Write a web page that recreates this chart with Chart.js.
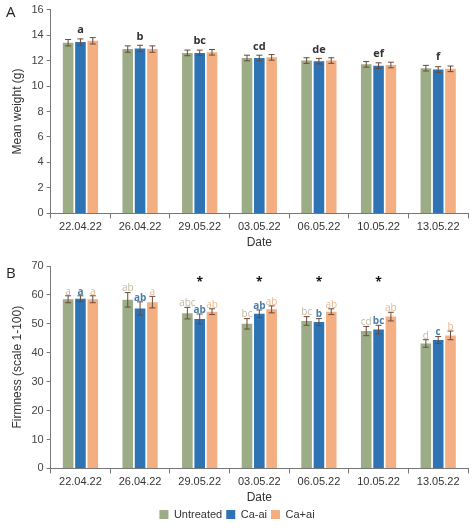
<!DOCTYPE html>
<html>
<head>
<meta charset="utf-8">
<script src="https://cdn.jsdelivr.net/npm/chart.js@4"></script>
<style>
  body { margin: 0; background: #fff; font-family: "Open Sans", sans-serif; }
  .panel { position: absolute; left: 0; width: 474px; }
  .tag { position: absolute; left: 6px; font-size: 15px; color: #222; }
</style>
</head>
<body>
<div class="panel" style="top:0;height:250px"><canvas id="chartA"></canvas></div>
<div class="panel" style="top:252px;height:278px"><canvas id="chartB"></canvas></div>
<div class="tag" style="top:1px">A</div>
<div class="tag" style="top:262px">B</div>
<script>
// Categories and series
const dates = ['22.04.22', '26.04.22', '29.05.22', '03.05.22', '06.05.22', '10.05.22', '13.05.22'];
const seriesNames = ['Untreated', 'Ca-ai', 'Ca+ai'];
const seriesColors = ['#9cac86', '#2e74b5', '#f3ae82'];

// Panel A: mean weight
const weightUntreated = [13.4, 12.9, 12.6, 12.2, 12.0, 11.7, 11.4];
const weightCaMinus = [13.45, 12.95, 12.6, 12.2, 11.95, 11.6, 11.3];
const weightCaPlus = [13.55, 12.9, 12.65, 12.25, 12.0, 11.65, 11.35];
const weightErr = [0.25, 0.25, 0.22, 0.22, 0.22, 0.22, 0.22];
const weightLetters = ['a', 'b', 'bc', 'cd', 'de', 'ef', 'f'];

// Panel B: firmness
const firmUntreated = [58.5, 58.3, 53.7, 50.0, 51.0, 47.5, 43.2];
const firmCaMinus = [58.7, 55.3, 51.7, 53.5, 50.6, 48.0, 44.4];
const firmCaPlus = [58.5, 57.5, 54.2, 55.0, 54.2, 52.5, 46.0];
const firmErrUntreated = [1.2, 2.5, 2.0, 1.8, 1.5, 1.6, 1.3];
const firmErrCaMinus = [1.0, 2.3, 1.7, 1.3, 1.2, 1.5, 1.2];
const firmErrCaPlus = [1.2, 2.0, 1.0, 1.2, 1.0, 1.5, 1.5];
const firmLettersUntreated = ['a', 'ab', 'abc', 'bc', 'bc', 'cd', 'd'];
const firmLettersCaMinus = ['a', 'ab', 'ab', 'ab', 'b', 'bc', 'c'];
const firmLettersCaPlus = ['a', 'a', 'ab', 'ab', 'ab', 'ab', 'b'];
const firmStars = ['', '', '*', '*', '*', '*', ''];

const letterColors = ['#c4b8a0', '#4a7ea8', '#eeb58a'];

// Error bars + letters drawn from dataset values through the scales
const annotate = {
    id: 'annotate',
    afterDatasetsDraw(chart) {
        const ctx = chart.ctx;
        const y = chart.scales.y;
        const cfg = chart.options.plugins.annotate;
        ctx.save();
        chart.data.datasets.forEach((ds, di) => {
            const meta = chart.getDatasetMeta(di);
            meta.data.forEach((bar, i) => {
                const e = ds.err[i];
                const top = y.getPixelForValue(ds.data[i] + e);
                const bot = y.getPixelForValue(ds.data[i] - e);
                ctx.strokeStyle = '#6b4a3a';
                ctx.lineWidth = 1;
                ctx.beginPath();
                ctx.moveTo(bar.x, top); ctx.lineTo(bar.x, bot);
                ctx.moveTo(bar.x - 3, top); ctx.lineTo(bar.x + 3, top);
                ctx.moveTo(bar.x - 3, bot); ctx.lineTo(bar.x + 3, bot);
                ctx.stroke();
                if (ds.letters) {
                    ctx.fillStyle = letterColors[di];
                    ctx.font = (di === 1 ? 'bold ' : '') + '10px "Open Sans"';
                    ctx.textAlign = 'center';
                    ctx.fillText(ds.letters[i], bar.x, top - 4);
                }
            });
        });
        if (cfg.groupLetters) {
            const mid = chart.getDatasetMeta(1).data;
            ctx.fillStyle = '#333';
            ctx.font = 'bold 11px "Open Sans"';
            ctx.textAlign = 'center';
            cfg.groupLetters.forEach((t, i) => {
                const ds = chart.data.datasets;
                const mx = Math.max(...ds.map(d => d.data[i] + d.err[i]));
                ctx.fillText(t, mid[i].x, y.getPixelForValue(mx) - 5);
            });
        }
        if (cfg.stars) {
            const mid = chart.getDatasetMeta(1).data;
            ctx.fillStyle = '#111';
            ctx.font = 'bold 12px "Open Sans"';
            ctx.textAlign = 'center';
            cfg.stars.forEach((t, i) => {
                if (t) ctx.fillText(t, mid[i].x, y.getPixelForValue(cfg.starY) + 8);
            });
        }
        ctx.restore();
    }
};

function makeChart(id, sets, yMax, yStep, yTitle, extra, showLegend, pad) {
    return new Chart(document.getElementById(id), {
        type: 'bar',
        data: {
            labels: dates,
            datasets: sets.map((s, i) => ({
                label: seriesNames[i],
                data: s.data,
                err: s.err,
                letters: s.letters,
                backgroundColor: seriesColors[i],
                categoryPercentage: 0.62,
                barPercentage: 0.86
            }))
        },
        options: {
            responsive: true,
            maintainAspectRatio: false,
            animation: false,
            layout: { padding: pad },
            plugins: {
                legend: {
                    display: showLegend,
                    position: 'bottom',
                    labels: { boxWidth: 9, boxHeight: 9, color: '#333', font: { size: 11 }, padding: 4 }
                },
                tooltip: { enabled: false },
                annotate: extra
            },
            scales: {
                x: {
                    grid: { display: true, drawOnChartArea: false, offset: true, color: '#777', tickLength: 5 },
                    border: { color: '#777' },
                    ticks: { color: '#333', font: { size: 11 }, padding: 2 },
                    title: { display: true, text: 'Date', color: '#333', font: { size: 12 }, padding: { top: 0, bottom: 0 } }
                },
                y: {
                    min: 0, max: yMax,
                    grid: { display: true, drawOnChartArea: false, color: '#777', tickLength: 4 },
                    border: { color: '#777' },
                    ticks: { stepSize: yStep, color: '#444', font: { size: 11 } },
                    title: { display: true, text: yTitle, color: '#333', font: { size: 12 } }
                }
            }
        },
        plugins: [annotate]
    });
}

makeChart('chartA', [
    { data: weightUntreated, err: weightErr },
    { data: weightCaMinus, err: weightErr },
    { data: weightCaPlus, err: weightErr }
], 16, 2, 'Mean weight (g)', { groupLetters: weightLetters }, false, { top: 4, right: 6, left: 6 });

makeChart('chartB', [
    { data: firmUntreated, err: firmErrUntreated, letters: firmLettersUntreated },
    { data: firmCaMinus, err: firmErrCaMinus, letters: firmLettersCaMinus },
    { data: firmCaPlus, err: firmErrCaPlus, letters: firmLettersCaPlus }
], 70, 10, 'Firmness (scale 1-100)', { stars: firmStars, starY: 67 }, true, { top: 14, right: 6, left: 6, bottom: 0 });
</script>
</body>
</html>
